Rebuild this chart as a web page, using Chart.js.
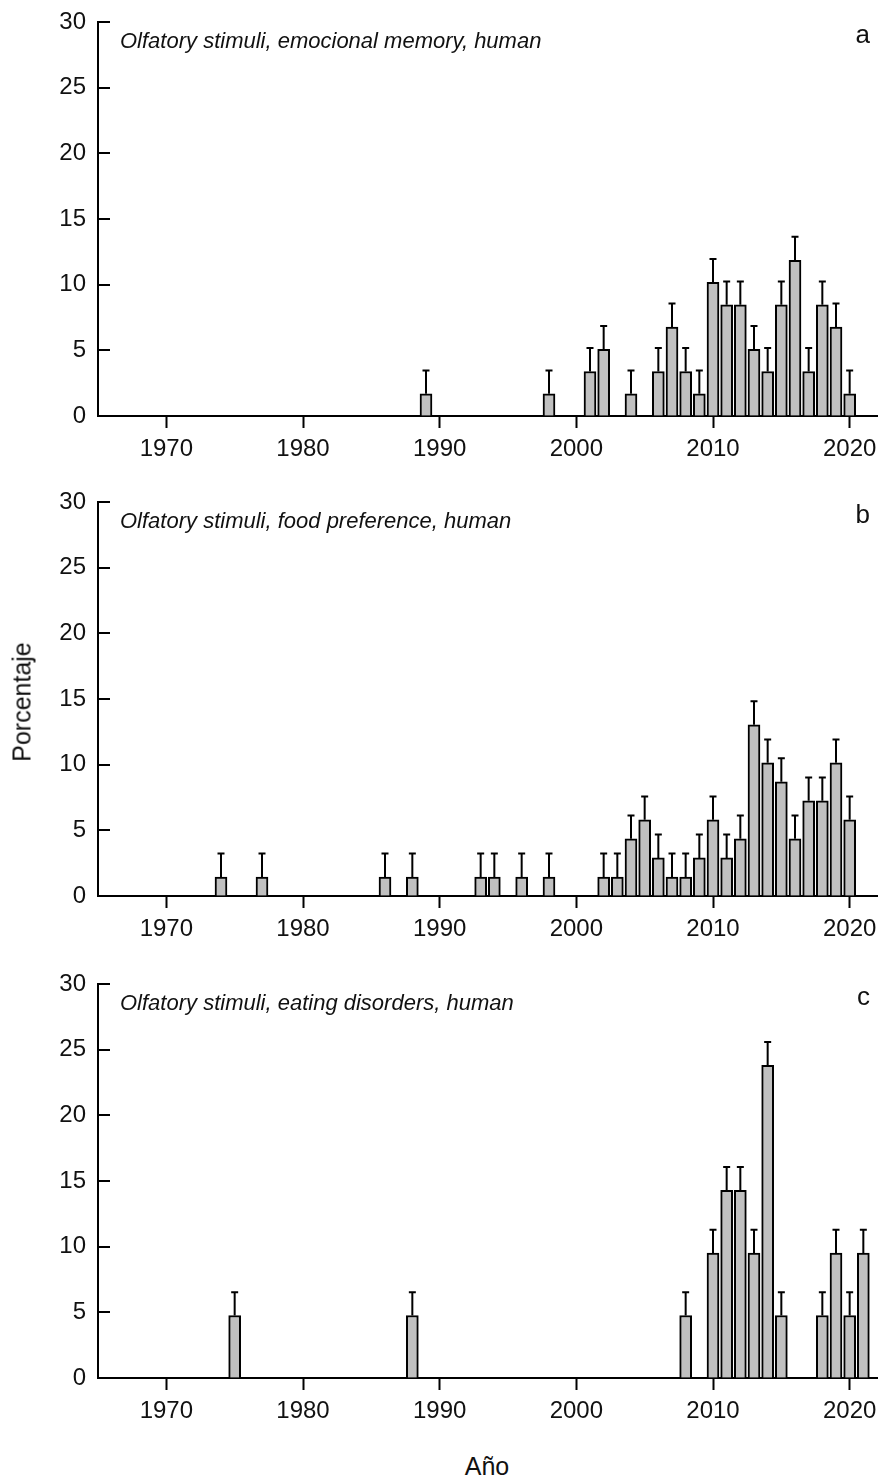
<!DOCTYPE html>
<html>
<head>
<meta charset="utf-8">
<script src="https://cdn.jsdelivr.net/npm/chart.js@4/dist/chart.umd.min.js"></script>
<style>
  body { margin: 0; background: #fff; }
  #wrap { position: relative; width: 880px; height: 1481px; font-family: "Liberation Sans", Arial, sans-serif; color: #111; }
  canvas { position: absolute; left: 0; }
  .ytitle { position: absolute; left: 22px; top: 702px; transform: translate(-50%, -50%) rotate(-90deg); font-size: 25px; white-space: nowrap; }
  .xtitle { position: absolute; left: 487px; top: 1466px; transform: translate(-50%, -50%); font-size: 25px; }
</style>
</head>
<body>
<div id="wrap">
  <canvas id="panelA" width="880" height="480" style="top:0px"></canvas>
  <canvas id="panelB" width="880" height="480" style="top:480px"></canvas>
  <canvas id="panelC" width="880" height="480" style="top:962px"></canvas>
  <div class="ytitle">Porcentaje</div>
  <div class="xtitle">Año</div>
</div>
<script>
const yearTicks = [1970, 1980, 1990, 2000, 2010, 2020];
const pctTicks = [0, 5, 10, 15, 20, 25, 30];

// a: emotional memory
const yearsA = [1989, 1998, 2001, 2002, 2004, 2006, 2007, 2008, 2009, 2010, 2011, 2012, 2013, 2014, 2015, 2016, 2017, 2018, 2019, 2020];
const pctA = [1.69, 1.69, 3.39, 5.08, 1.69, 3.39, 6.78, 3.39, 1.69, 10.17, 8.47, 8.47, 5.08, 3.39, 8.47, 11.86, 3.39, 8.47, 6.78, 1.69];
const errA = 1.78;

// b: food preference
const yearsB = [1974, 1977, 1986, 1988, 1993, 1994, 1996, 1998, 2002, 2003, 2004, 2005, 2006, 2007, 2008, 2009, 2010, 2011, 2012, 2013, 2014, 2015, 2016, 2017, 2018, 2019, 2020];
const pctB = [1.45, 1.45, 1.45, 1.45, 1.45, 1.45, 1.45, 1.45, 1.45, 1.45, 4.35, 5.80, 2.90, 1.45, 1.45, 2.90, 5.80, 2.90, 4.35, 13.04, 10.14, 8.70, 4.35, 7.25, 7.25, 10.14, 5.80];
const errB = 1.78;

// c: eating disorders
const yearsC = [1975, 1988, 2008, 2010, 2011, 2012, 2013, 2014, 2015, 2018, 2019, 2020, 2021];
const pctC = [4.76, 4.76, 4.76, 9.52, 14.29, 14.29, 9.52, 23.81, 4.76, 4.76, 9.52, 4.76, 9.52];
const errC = 1.77;

const FONT = '"Liberation Sans", Arial, sans-serif';

// upward error bars + inward y ticks + panel captions
const panelDecor = {
  id: 'panelDecor',
  afterDatasetsDraw(chart, args, opts) {
    const ctx = chart.ctx;
    const ys = chart.scales.y;
    const meta = chart.getDatasetMeta(0);
    const vals = chart.data.datasets[0].data;
    ctx.save();
    ctx.strokeStyle = '#000';
    ctx.lineWidth = 2;
    meta.data.forEach((bar, i) => {
      const v = vals[i].y;
      const y0 = ys.getPixelForValue(v);
      const y1 = ys.getPixelForValue(v + opts.err);
      ctx.beginPath();
      ctx.moveTo(bar.x, y0);
      ctx.lineTo(bar.x, y1);
      ctx.moveTo(bar.x - 3.5, y1);
      ctx.lineTo(bar.x + 3.5, y1);
      ctx.stroke();
    });
    ctx.restore();
  },
  afterDraw(chart, args, opts) {
    const ctx = chart.ctx;
    const area = chart.chartArea;
    const ys = chart.scales.y;
    ctx.save();
    ctx.strokeStyle = '#000';
    ctx.lineWidth = 2;
    ys.ticks.forEach(t => {
      const py = Math.round(ys.getPixelForValue(t.value));
      ctx.beginPath();
      ctx.moveTo(area.left, py);
      ctx.lineTo(area.left + 12, py);
      ctx.stroke();
    });
    ctx.fillStyle = '#111';
    ctx.font = 'italic 22px ' + FONT;
    ctx.textAlign = 'left';
    ctx.textBaseline = 'alphabetic';
    ctx.fillText(opts.caption, area.left + 22, area.top + 26);
    ctx.font = '26px ' + FONT;
    ctx.textAlign = 'right';
    ctx.fillText(opts.letter, area.right - 7, area.top + 21);
    ctx.restore();
  }
};

function makePanel(id, years, pct, err, caption, letter) {
  return new Chart(document.getElementById(id), {
    type: 'bar',
    data: {
      datasets: [{
        data: years.map((yr, i) => ({ x: yr, y: pct[i] })),
        backgroundColor: '#c0c0c0',
        borderColor: '#000',
        borderWidth: 2,
        barThickness: 12
      }]
    },
    options: {
      responsive: false,
      animation: false,
      devicePixelRatio: 1,
      layout: { padding: { top: 22, right: 3, left: 0, bottom: 0 } },
      plugins: {
        legend: { display: false },
        tooltip: { enabled: false },
        panelDecor: { err: err, caption: caption, letter: letter }
      },
      scales: {
        x: {
          type: 'linear',
          min: 1965,
          max: 2022,
          offset: false,
          afterBuildTicks: axis => { axis.ticks = yearTicks.map(v => ({ value: v })); },
          afterFit: axis => { axis.height = 64; axis.paddingLeft = 0; axis.paddingRight = 0; },
          grid: { drawOnChartArea: false, drawTicks: true, tickLength: 12, color: '#000', tickWidth: 2, offset: false },
          border: { display: true, color: '#000', width: 2 },
          ticks: { color: '#111', font: { family: FONT, size: 24 }, padding: 7, maxRotation: 0, callback: v => String(v) }
        },
        y: {
          min: 0,
          max: 30,
          afterBuildTicks: axis => { axis.ticks = pctTicks.map(v => ({ value: v })); },
          afterFit: axis => { axis.width = 98; axis.paddingTop = 0; axis.paddingBottom = 0; },
          grid: { drawOnChartArea: false, drawTicks: false },
          border: { display: true, color: '#000', width: 2 },
          ticks: { color: '#111', font: { family: FONT, size: 24 }, padding: 12 }
        }
      }
    },
    plugins: [panelDecor]
  });
}

makePanel('panelA', yearsA, pctA, errA, 'Olfatory stimuli, emocional memory, human', 'a');
makePanel('panelB', yearsB, pctB, errB, 'Olfatory stimuli, food preference, human', 'b');
makePanel('panelC', yearsC, pctC, errC, 'Olfatory stimuli, eating disorders, human', 'c');
</script>
</body>
</html>
